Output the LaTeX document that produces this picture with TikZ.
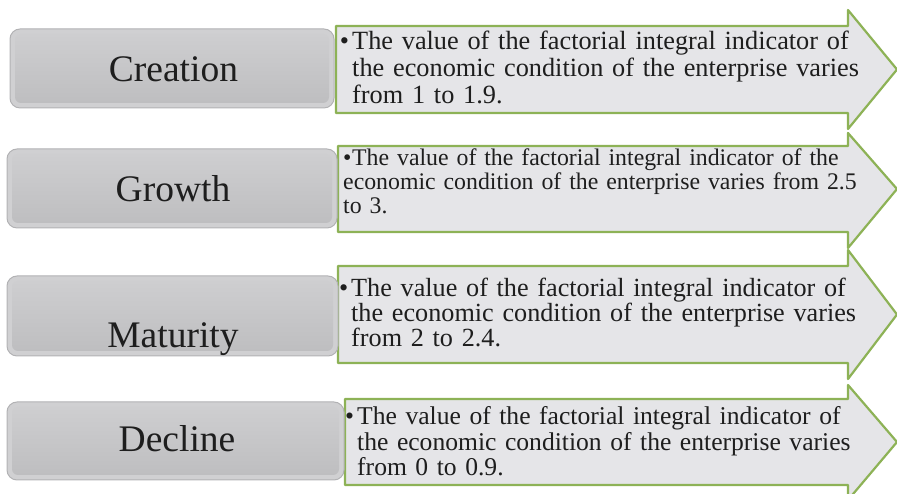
\documentclass[tikz,border=0pt]{standalone}
\usepackage{fontspec}
\setmainfont{Liberation Serif}
\usepackage{tkz-euclide}
\definecolor{ArrowClr}{RGB}{141,178,86}
\definecolor{ArrowFillClr}{RGB}{229,229,232}
\definecolor{BoxClr}{RGB}{208,208,210}
\definecolor{BoxEdgeClr}{RGB}{178,178,180}
\definecolor{BoxTopClr}{RGB}{206,206,208}
\definecolor{BoxBotClr}{RGB}{190,190,192}
\definecolor{InkClr}{RGB}{30,30,30}

\tikzset{
  stagebox/.style={fill=BoxClr,draw=BoxEdgeClr,line width=1pt,rounded corners=10pt},
  stagebevel/.style={top color=BoxTopClr,bottom color=BoxBotClr,rounded corners=6pt},
  stagelabel/.style={anchor=base,inner sep=0pt,text=InkClr,font=\fontsize{37.5}{40}\selectfont},
  stagetext/.style={anchor=base west,inner sep=0pt,text=InkClr,align=left,
    text width=540pt,font=\fontsize{26.3}{27}\selectfont},
}

\begin{document}
\begin{tikzpicture}[x=1pt,y=1pt]
\useasboundingbox (0,0) rectangle (897,494);

% arrows (body + head)
\tkzDefPoints{336/468/A1,848/468/B1,848/484/C1,897/424.5/D1,848/365/E1,848/381/F1,336/381/G1}
\tkzDefPoints{338/348/A2,848/348/B2,848/361/C2,897/305/D2,848/246/E2,848/262/F2,338/262/G2}
\tkzDefPoints{338/228/A3,848/228/B3,848/244/C3,897/179.5/D3,848/115/E3,848/131/F3,338/131/G3}
\tkzDefPoints{345/95/A4,848/95/B4,848/109/C4,897/52/D4,848/-6/E4,848/9/F4,345/9/G4}

\tkzFillPolygon[fill=ArrowFillClr](A1,B1,C1,D1,E1,F1,G1)
\tkzFillPolygon[fill=ArrowFillClr](A2,B2,C2,D2,E2,F2,G2)
\tkzFillPolygon[fill=ArrowFillClr](A3,B3,C3,D3,E3,F3,G3)
\tkzFillPolygon[fill=ArrowFillClr](A4,B4,C4,D4,E4,F4,G4)
\tkzDrawPolygon[color=ArrowClr,line width=2.2pt](A1,B1,C1,D1,E1,F1,G1)
\tkzDrawPolygon[color=ArrowClr,line width=2.2pt](A2,B2,C2,D2,E2,F2,G2)
\tkzDrawPolygon[color=ArrowClr,line width=2.2pt](A3,B3,C3,D3,E3,F3,G3)
\tkzDrawPolygon[color=ArrowClr,line width=2.2pt](A4,B4,C4,D4,E4,F4,G4)

% stage boxes
\tkzDefPoints{10/386/P1,334/465/Q1,7/266/P2,337/345/Q2,7/138/P3,338/218/Q3,7/14/P4,344/92/Q4}
\draw[stagebox] (P1) rectangle (Q1);
\draw[stagebox] (P2) rectangle (Q2);
\draw[stagebox] (P3) rectangle (Q3);
\draw[stagebox] (P4) rectangle (Q4);
\shade[stagebevel] ([shift={(5,5)}]P1) rectangle ([shift={(-5,-5)}]Q1);
\shade[stagebevel] ([shift={(5,5)}]P2) rectangle ([shift={(-5,-5)}]Q2);
\shade[stagebevel] ([shift={(5,5)}]P3) rectangle ([shift={(-5,-5)}]Q3);
\shade[stagebevel] ([shift={(5,5)}]P4) rectangle ([shift={(-5,-5)}]Q4);

\node[stagelabel] (creation) at (173.5,412) {Creation};
\node[stagelabel] (growth) at (173,292) {Growth};
\node[stagelabel] (maturity) at (173,146) {Maturity};
\node[stagelabel] (decline) at (177,42) {Decline};

% bullet texts
\node[stagetext] (creationtxt) at (352,444) {\llap{\textbullet\hspace{3pt}}The value of the factorial integral indicator of\\the economic condition of the enterprise varies\\from 1 to 1.9.};
\node[stagetext,font=\fontsize{23.8}{24}\selectfont] (growthtxt) at (343,328) {\makebox[9pt][l]{\textbullet}\makebox[493pt][s]{The value of the factorial integral indicator of the}\\economic condition of the enterprise varies from 2.5\\to 3.};
\node[stagetext,font=\fontsize{26.2}{25}\selectfont] (maturitytxt) at (351,197) {\llap{\textbullet\hspace{3pt}}The value of the factorial integral indicator of\\the economic condition of the enterprise varies\\from 2 to 2.4.};
\node[stagetext,font=\fontsize{25.6}{25.5}\selectfont] (declinetxt) at (357,69) {\llap{\textbullet\hspace{3pt}}The value of the factorial integral indicator of\\the economic condition of the enterprise varies\\from 0 to 0.9.};

\end{tikzpicture}
\end{document}
